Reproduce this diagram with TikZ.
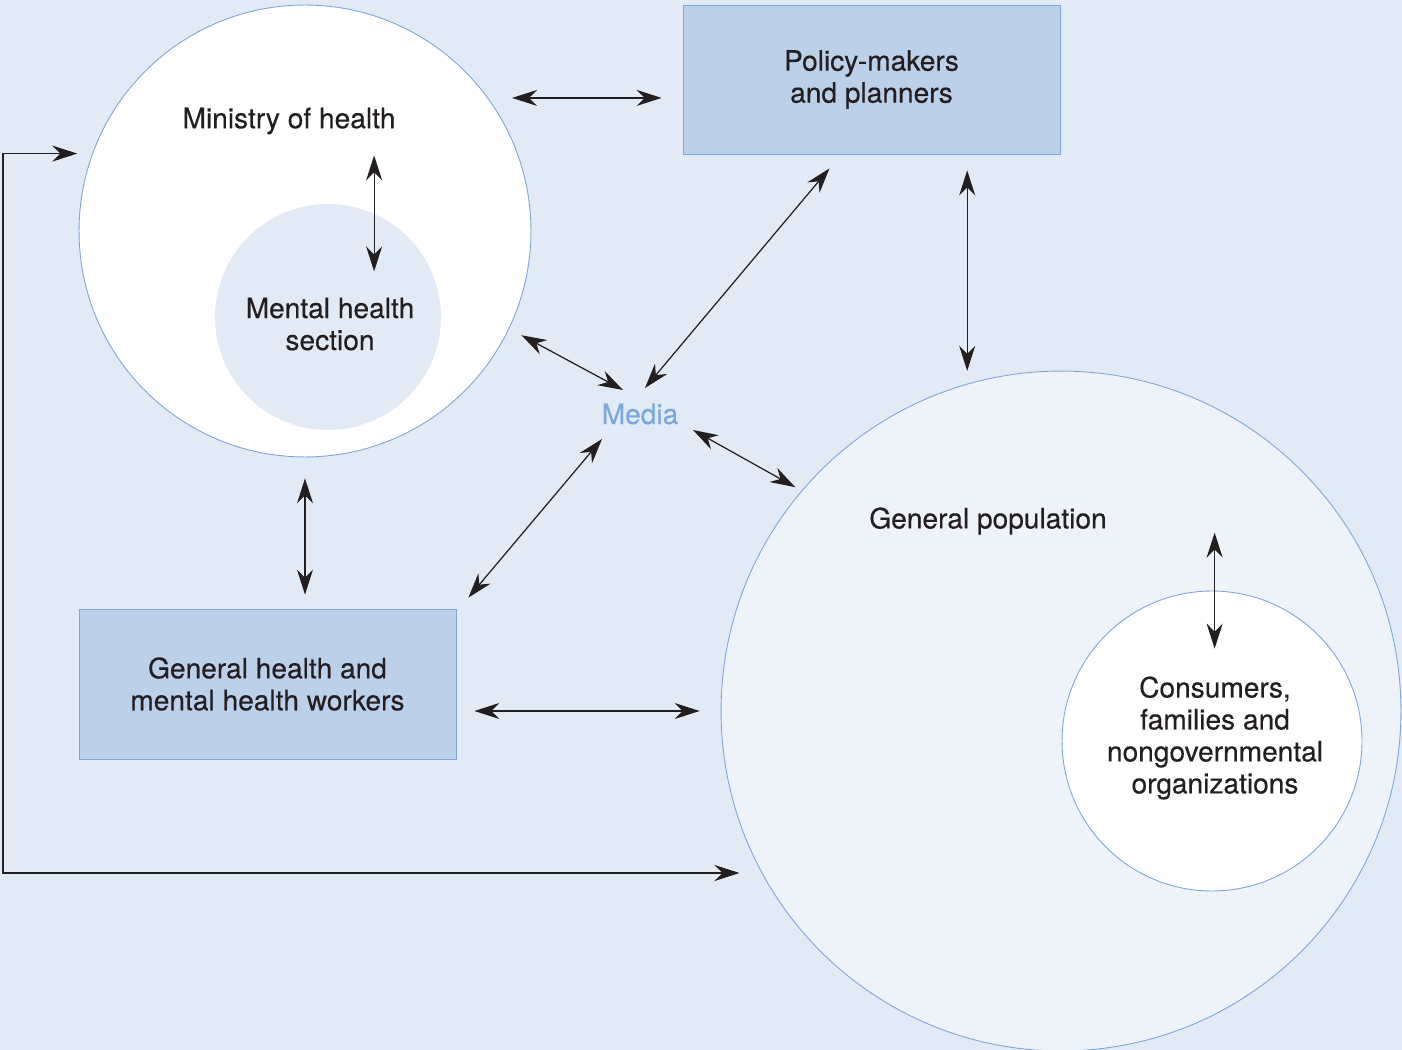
\documentclass[tikz,border=0pt]{standalone}
\usepackage{fontspec}
\setmainfont{TeX Gyre Heros}
\usetikzlibrary{arrows.meta}

\definecolor{bgblue}{RGB}{226,234,246}
\definecolor{boxblue}{RGB}{188,208,234}
\definecolor{lineblue}{RGB}{125,165,218}
\definecolor{popblue}{RGB}{238,243,250}
\definecolor{mediablue}{RGB}{122,167,220}
\definecolor{ink}{RGB}{35,31,32}

\begin{document}
\begin{tikzpicture}[x=0.02cm, y=-0.02cm,
    every node/.style={font=\fontsize{16}{18.2}\selectfont\addfontfeature{FakeBold=0.35}, text=ink, align=center},
    circ/.style={circle, draw=lineblue, line width=0.5pt, inner sep=0pt},
    box/.style={rectangle, draw=lineblue, line width=0.5pt, fill=boxblue, minimum width=7.54cm, minimum height=2.98cm},
    dbl/.style={{Stealth[length=0.5cm, width=0.32cm]}-{Stealth[length=0.5cm, width=0.32cm]}, line width=0.7pt, draw=ink}]

    \fill[bgblue] (0,0) rectangle (1402,1050);
    \useasboundingbox (0,0) rectangle (1402,1050);

    % circles and boxes
    \node[circ, fill=white, minimum size=9.04cm] (ministry) at (305,231) {};
    \node[circ, draw=none, fill=bgblue, minimum size=4.52cm] (mental) at (328,317) {};
    \node[box] (policy) at (871.5,79.5) {Policy-makers\\and planners};
    \node[box, minimum height=3cm] (workers) at (267.5,684) {General health and\\mental health workers};
    \node[circ, fill=popblue, minimum size=13.6cm] (population) at (1061,711) {};
    \node[circ, fill=white, minimum size=6cm] (consumers) at (1212,741) {};

    % labels
    \node (mohlabel) at (289,121) {Ministry of health};
    \node (mentallabel) at (330,324) {Mental health\\section};
    \node (poplabel) at (988,521) {General population};
    \node (conslabel) at (1215,738) {Consumers,\\families and\\nongovernmental\\organizations};
    \node[text=mediablue] (media) at (640,414) {Media};

    % arrows
    \draw[dbl, shorten <=0.48cm, shorten >=0.42cm] (ministry.36) -- (ministry.36 -| policy.west);
    \draw[dbl] ([shift={(0,-58)}]mental.66) -- ([shift={(0,58)}]mental.66);
    \draw[dbl] ([shift={(13,5)}]ministry.334) -- ([shift={(-17,-24)}]media.center);
    \draw[dbl] ([shift={(-42,14)}]policy.south) -- ([shift={(5,-26)}]media.center);
    \draw[dbl, shorten <=0.32cm, shorten >=0.26cm] (population.106 |- policy.south) -- (population.106);
    \draw[dbl, shorten <=0.42cm, shorten >=0.28cm] (ministry.south) -- (ministry.south |- workers.north);
    \draw[dbl] ([shift={(12,-11)}]workers.north east) -- ([shift={(-38,25)}]media.center);
    \draw[dbl] ([shift={(53,16)}]media.center) -- ([shift={(-5,-5)}]population.140);
    \draw[dbl, shorten <=0.36cm, shorten >=0.42cm] (population.west -| workers.east) -- (population.west);
    \draw[dbl] ([shift={(0,-58)}]consumers.89) -- ([shift={(0,58)}]consumers.89);

    % feedback loop
    \coordinate (loop) at (3,873);
    \draw[dbl, shorten <=0.3cm, shorten >=0.42cm] (ministry.160) -| (loop) -- (loop -| population.208);
\end{tikzpicture}
\end{document}
